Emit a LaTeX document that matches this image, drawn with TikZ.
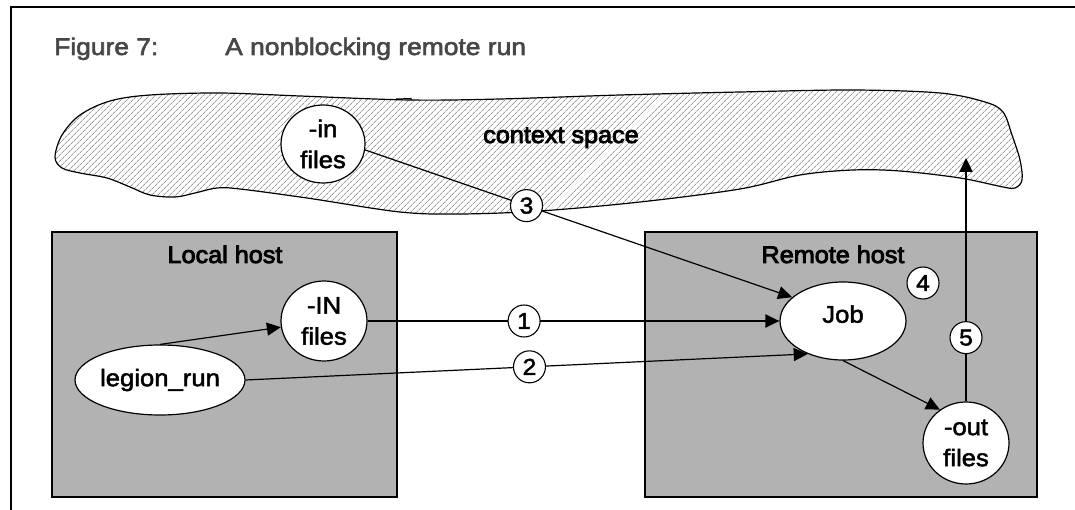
\documentclass[tikz,border=0pt]{standalone}
\usepackage{fontspec}
\setmainfont{Liberation Sans}
\newfontfamily\lblfont[FakeStretch=1.07, FakeBold=2]{Liberation Sans}
\newfontfamily\headfont[FakeStretch=1.05, FakeBold=3.5]{Liberation Sans}
\newfontfamily\capfont[FakeStretch=1.1, FakeBold=2.5]{Liberation Sans}
\usetikzlibrary{arrows.meta,shapes.geometric,patterns.meta}
\definecolor{hostgray}{gray}{0.70}
\definecolor{titlegray}{gray}{0.28}

\begin{document}
\begin{tikzpicture}[x=1pt,y=-1pt,
  every node/.style={inner sep=0pt},
  hostbox/.style={draw=black, line width=2.4pt, fill=hostgray},
  hosttitle/.style={anchor=base, font=\headfont\fontsize{24}{28}\selectfont},
  blob/.style={draw=black, line width=1.2pt, fill=white, ellipse, align=center,
    font=\lblfont\fontsize{24}{31}\selectfont},
  stepnum/.style={draw=black, line width=1.1pt, fill=white, circle,
    minimum size=32pt, font=\lblfont\fontsize{23}{23}\selectfont},
  link/.style={line width=1.2pt, -{Triangle[length=14pt,width=13pt]}},
  heavylink/.style={link, line width=2.2pt},
  figtitle/.style={anchor=base west, text=titlegray,
    font=\capfont\fontsize{24}{28}\selectfont},
  ctxshape/.style={draw=black, line width=1.2pt,
    preaction={fill=white},
    preaction={pattern={Lines[angle=45,distance=4pt,line width=0.55pt]},
      pattern color=black!60}}
]
\useasboundingbox (0,0) rectangle (1075,510);

% page frame
\draw[line width=2pt, line join=miter] (11,510) -- (11,7) -- (1075,7);

% caption
\node[figtitle] (fignum) at (54,55) {Figure 7:};
\node[figtitle] (figtext) at (225,55) {A nonblocking remote run};

% shared context space
\draw[ctxshape] plot[smooth cycle, tension=0.55] coordinates {
  (55,157) (62,135) (80,115) (110,101) (150,95) (220,93) (300,96) (410,100)
  (500,99) (620,95) (740,92) (853,90) (940,93) (985,102) (1003,112)
  (1012,135) (1020,160) (1022,180) (1015,188) (1003,187) (960,178)
  (900,171) (853,170) (800,175) (740,189) (640,202) (540,211) (460,214)
  (400,212) (307,198) (240,189) (217,188) (195,193) (175,197) (150,195)
  (130,187) (107,178) (80,173) (62,168)};
% small kink in the upper outline
\draw[line width=1pt] (396,99) -- (411,98.5) -- (411,100.5);
\node[hosttitle] (ctxlabel) at (561,143) {context space};

% hosts
\draw[hostbox] (52,232) rectangle (397,497);
\draw[hostbox] (645,232) rectangle (1037,497);
\node[hosttitle] (localtitle) at (225,263) {Local host};
\node[hosttitle] (remotetitle) at (833,263) {Remote host};

% files and processes
\node[blob, minimum width=84pt, minimum height=78pt] (inctx) at (323,144) {-in\\files};
\node[blob, minimum width=170pt, minimum height=70pt] (legion) at (160,380) {legion\_run};
\node[blob, minimum width=86pt, minimum height=80pt] (inIN) at (324,321) {-IN\\files};
\node[blob, minimum width=126pt, minimum height=78pt, text depth=14pt] (job) at (843,321) {Job};
\node[blob, minimum width=86pt, minimum height=82pt] (outf) at (966,443) {-out\\files};
\coordinate (ctxin) at (966,158);

% transfers
\draw[link] (legion.north) -- (inIN);
\draw[heavylink] (inIN.east) -- node[stepnum, pos=0.38] (s1) {1} (job.west);
\draw[link] (legion.east) -- node[stepnum, pos=0.505] (s2) {2} (job.223);
\draw[link] (inctx.-8) -- node[stepnum, pos=0.378] (s3) {3} (job.155);
\node[stepnum] (s4) at (923,283) {4};
\draw[link] (job.south) -- (outf.128);
\draw[heavylink] (outf.north) -- node[stepnum, pos=0.262] (s5) {5} (ctxin);
\end{tikzpicture}
\end{document}
